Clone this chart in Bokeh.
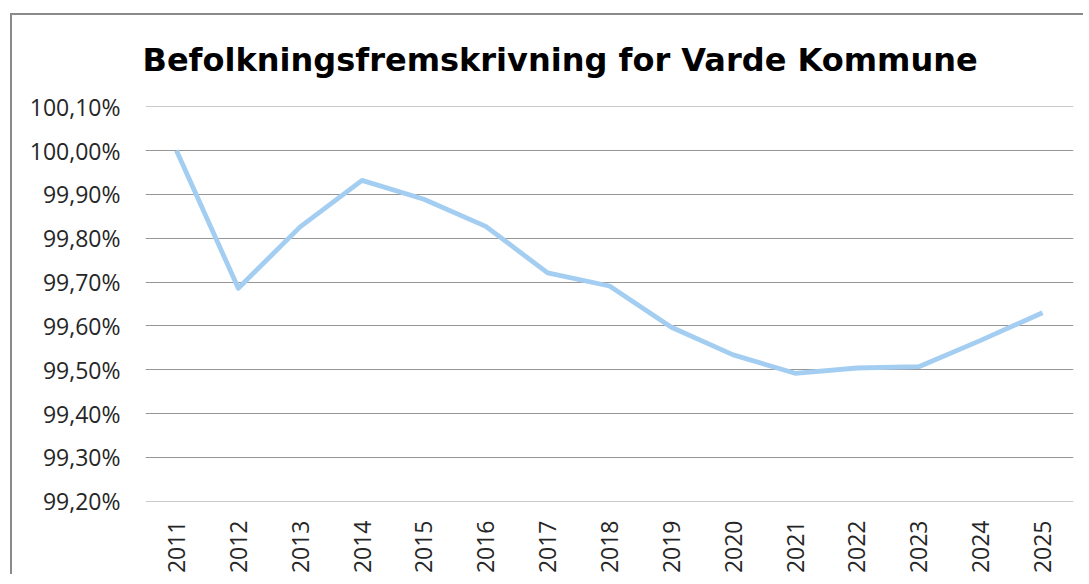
import math
from bokeh.plotting import figure
from bokeh.models import FactorRange, Range1d, FixedTicker, CustomJSTickFormatter, Title
from bokeh.embed import file_html
from bokeh.resources import INLINE

years = ["2011", "2012", "2013", "2014", "2015", "2016", "2017", "2018",
         "2019", "2020", "2021", "2022", "2023", "2024", "2025"]
values = [100.00, 99.686, 99.826, 99.932, 99.889, 99.827, 99.721, 99.691,
          99.597, 99.534, 99.492, 99.504, 99.507, 99.567, 99.630]
y_ticks = [99.2, 99.3, 99.4, 99.5, 99.6, 99.7, 99.8, 99.9, 100.0, 100.1]
title_text = "Befolkningsfremskrivning for Varde Kommune"

p = figure(width=1073, height=561, output_backend="svg", toolbar_location=None,
           x_range=FactorRange(*years, range_padding=0),
           y_range=Range1d(99.1995, 100.1005),
           min_border_left=133, min_border_right=12, min_border_top=91,
           min_border_bottom=75)
p.styles = {"border-left": "2px solid #8a8a8a", "border-top": "2px solid #8a8a8a",
            "margin-left": "10px", "margin-top": "13px"}

p.title = Title(text=title_text, align="left", offset=-3, standoff=51,
                vertical_align="top",
                text_font="DejaVu Sans", text_font_size="32px",
                text_font_style="bold", text_color="#000000")

p.line(x=years, y=values, line_color="#A3CEF1", line_width=4.8, line_join="round")

p.outline_line_color = None
p.background_fill_color = "white"
p.border_fill_color = "white"

p.xgrid.grid_line_color = None
p.ygrid.grid_line_color = "#969696"
p.ygrid.grid_line_width = 1

p.yaxis.ticker = FixedTicker(ticks=y_ticks)
p.yaxis.formatter = CustomJSTickFormatter(
    code="return tick.toFixed(2).replace('.', ',') + '%';")
for ax in (p.xaxis, p.yaxis):
    ax.axis_line_color = None
    ax.major_tick_line_color = None
    ax.minor_tick_line_color = None
    ax.major_tick_out = 0
    ax.major_tick_in = 0
    ax.major_label_text_font = "Open Sans"
    ax.major_label_text_font_size = "23px"
    ax.major_label_text_color = "#262626"
p.yaxis.major_label_standoff = 25
p.xaxis.major_label_standoff = 19
p.xaxis.major_label_orientation = math.pi / 2
p.xaxis.group_text_font_size = "0px"

open("out.html", "w").write(file_html(p, INLINE))
